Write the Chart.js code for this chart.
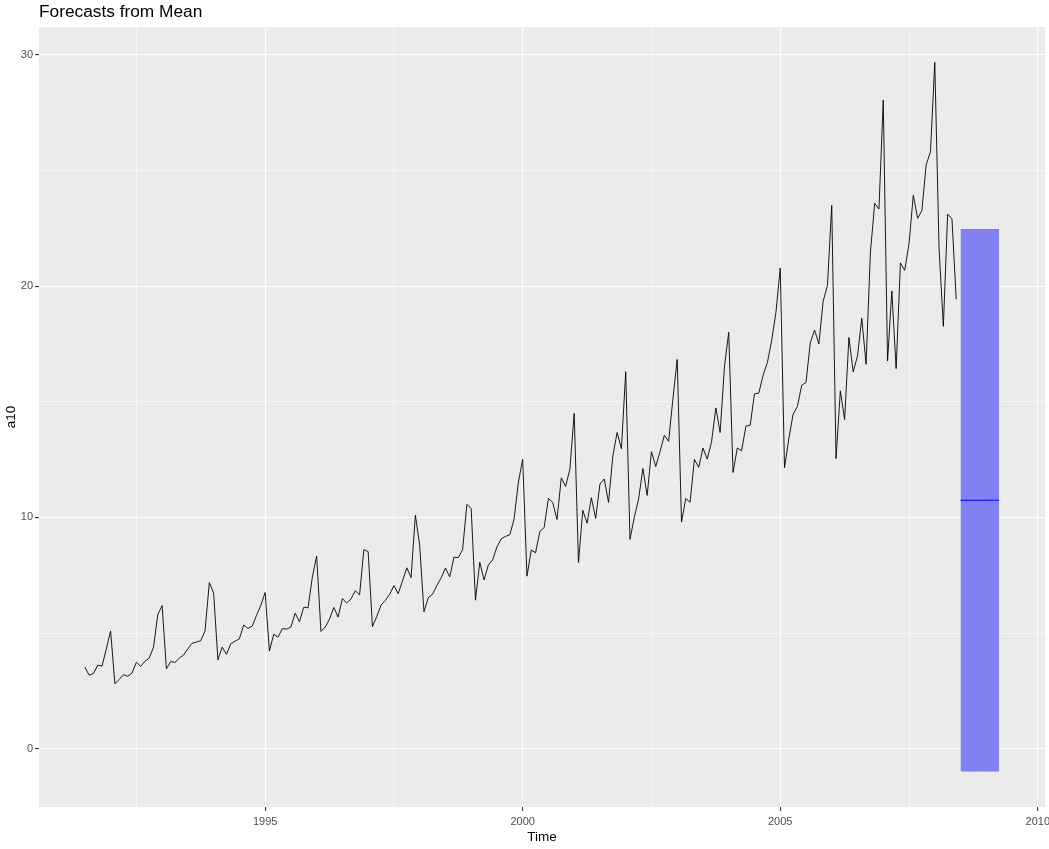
<!DOCTYPE html>
<html>
<head>
<meta charset="utf-8">
<script src="https://cdn.jsdelivr.net/npm/chart.js@4/dist/chart.umd.min.js"></script>
<style>
  body { margin: 0; background: #fff; }
  canvas { display: block; }
</style>
</head>
<body>
<canvas id="fcChart" width="1049" height="849"></canvas>
<script>
// a10 monthly series, starts Jul 1991
const startYear = 1991.5;
const freq = 12;
const a10 = [
  3.53, 3.18, 3.25, 3.61, 3.57, 4.31,
  5.09, 2.81, 2.99, 3.20, 3.13, 3.27, 3.74, 3.56, 3.78, 3.92, 4.39, 5.81,
  6.19, 3.45, 3.77, 3.73, 3.91, 4.05, 4.32, 4.56, 4.61, 4.67, 5.09, 7.18,
  6.73, 3.84, 4.39, 4.08, 4.54, 4.65, 4.75, 5.35, 5.20, 5.30, 5.77, 6.20,
  6.75, 4.22, 4.95, 4.82, 5.19, 5.17, 5.26, 5.86, 5.49, 6.12, 6.09, 7.42,
  8.33, 5.07, 5.26, 5.60, 6.11, 5.69, 6.49, 6.30, 6.47, 6.83, 6.65, 8.61,
  8.52, 5.28, 5.71, 6.21, 6.41, 6.67, 7.05, 6.70, 7.25, 7.82, 7.40, 10.10,
  8.80, 5.92, 6.53, 6.68, 7.06, 7.38, 7.81, 7.43, 8.28, 8.26, 8.60, 10.56,
  10.39, 6.42, 8.06, 7.30, 7.94, 8.17, 8.72, 9.07, 9.18, 9.25, 9.93, 11.53,
  12.51, 7.46, 8.59, 8.47, 9.39, 9.56, 10.83, 10.64, 9.91, 11.71, 11.34, 12.08,
  14.50, 8.05, 10.31, 9.75, 10.85, 9.96, 11.44, 11.66, 10.65, 12.65, 13.67, 12.97,
  16.30, 9.05, 10.00, 10.79, 12.11, 10.95, 12.84, 12.20, 12.85, 13.54, 13.29, 15.13,
  16.83, 9.80, 10.82, 10.65, 12.51, 12.16, 13.00, 12.52, 13.27, 14.73, 13.67, 16.50,
  18.00, 11.94, 13.00, 12.88, 13.94, 13.99, 15.34, 15.37, 16.14, 16.69, 17.64, 18.87,
  20.78, 12.15, 13.40, 14.46, 14.80, 15.71, 15.83, 17.55, 18.10, 17.50, 19.35, 20.03,
  23.49, 12.54, 15.47, 14.23, 17.78, 16.29, 16.98, 18.61, 16.62, 21.43, 23.58, 23.33,
  28.04, 16.76, 19.79, 16.43, 21.00, 20.68, 21.83, 23.93, 22.93, 23.26, 25.25, 25.81,
  29.67, 21.65, 18.26, 23.11, 22.91, 19.43
];

// forecast horizon: Jul 2008 - Apr 2009
const fcStart = 2008.5;
const fcMean  = [10.74, 10.74, 10.74, 10.74, 10.74, 10.74, 10.74, 10.74, 10.74, 10.74];
const fcUpper = [22.47, 22.47, 22.47, 22.47, 22.47, 22.47, 22.47, 22.47, 22.47, 22.47];
const fcLower = [-0.99, -0.99, -0.99, -0.99, -0.99, -0.99, -0.99, -0.99, -0.99, -0.99];

const xTicks = [1992.5, 1995, 1997.5, 2000, 2002.5, 2005, 2007.5, 2010];
const yTicks = [0, 5, 10, 15, 20, 25, 30];
const xMajor = [1995, 2000, 2005, 2010];
const yMajor = [0, 10, 20, 30];

const toPts = (arr, t0) => arr.map((v, i) => ({ x: t0 + i / freq, y: v }));

const FONT = "'Liberation Sans', Arial, sans-serif";

const panelBg = {
  id: 'panelBg',
  beforeDraw(chart) {
    const { ctx, chartArea: a } = chart;
    ctx.save();
    ctx.fillStyle = '#EBEBEB';
    ctx.fillRect(a.left, a.top, a.right - a.left, a.bottom - a.top);
    ctx.restore();
  },
  afterDraw(chart) {
    const { ctx, chartArea: a } = chart;
    ctx.save();
    ctx.fillStyle = '#000';
    ctx.font = '17.3px ' + FONT;
    ctx.textBaseline = 'alphabetic';
    ctx.textAlign = 'left';
    ctx.fillText('Forecasts from Mean', a.left, 17);
    ctx.font = '13.5px ' + FONT;
    ctx.textAlign = 'center';
    ctx.fillText('Time', (a.left + a.right) / 2, 841);
    ctx.translate(15, (a.top + a.bottom) / 2);
    ctx.rotate(-Math.PI / 2);
    ctx.fillText('a10', 0, 0);
    ctx.restore();
  }
};

function gridStyle(majors) {
  return {
    color: '#FFFFFF',
    lineWidth: c => (c.tick && majors.includes(c.tick.value)) ? 1.1 : 0.55,
    tickColor: c => (c.tick && majors.includes(c.tick.value)) ? '#333333' : 'rgba(0,0,0,0)',
    tickLength: 4,
    tickWidth: 1.1,
    drawOnChartArea: true
  };
}

new Chart(document.getElementById('fcChart'), {
  type: 'line',
  data: {
    datasets: [
      {
        label: 'mean',
        data: toPts(fcMean, fcStart),
        borderColor: '#0000FF',
        borderWidth: 1,
        pointRadius: 0,
        fill: false,
        order: 0
      },
      {
        label: 'a10',
        data: toPts(a10, startYear),
        borderColor: '#000000',
        borderWidth: 0.9,
        pointRadius: 0,
        tension: 0,
        fill: false,
        order: 1
      },
      {
        label: 'upper',
        data: toPts(fcUpper, fcStart),
        borderWidth: 0,
        borderColor: 'rgba(0,0,0,0)',
        pointRadius: 0,
        backgroundColor: '#8080F0',
        fill: '+1',
        order: 2
      },
      {
        label: 'lower',
        data: toPts(fcLower, fcStart),
        borderWidth: 0,
        borderColor: 'rgba(0,0,0,0)',
        pointRadius: 0,
        fill: false,
        order: 3
      }
    ]
  },
  options: {
    responsive: false,
    animation: false,
    devicePixelRatio: 1,
    layout: { padding: { top: 27, right: 4, left: 0, bottom: 0 } },
    plugins: {
      legend: { display: false },
      tooltip: { enabled: false },
      title: { display: false }
    },
    scales: {
      x: {
        type: 'linear',
        min: 1990.61,
        max: 2010.14,
        afterBuildTicks: s => { s.ticks = xTicks.map(v => ({ value: v })); },
        afterFit: s => { s.height = 42; s.paddingLeft = 0; s.paddingRight = 0; },
        border: { display: false },
        grid: gridStyle(xMajor),
        ticks: {
          color: '#4D4D4D',
          font: { family: FONT, size: 11 },
          padding: 4,
          maxRotation: 0,
          autoSkip: false,
          callback: v => xMajor.includes(v) ? String(v) : ''
        }
      },
      y: {
        type: 'linear',
        min: -2.52,
        max: 31.2,
        afterBuildTicks: s => { s.ticks = yTicks.map(v => ({ value: v })); },
        afterFit: s => { s.width = 39; s.paddingTop = 0; s.paddingBottom = 0; },
        border: { display: false },
        grid: gridStyle(yMajor),
        ticks: {
          color: '#4D4D4D',
          font: { family: FONT, size: 11 },
          padding: 2,
          autoSkip: false,
          callback: v => yMajor.includes(v) ? String(v) : ''
        }
      }
    }
  },
  plugins: [panelBg]
});
</script>
</body>
</html>
